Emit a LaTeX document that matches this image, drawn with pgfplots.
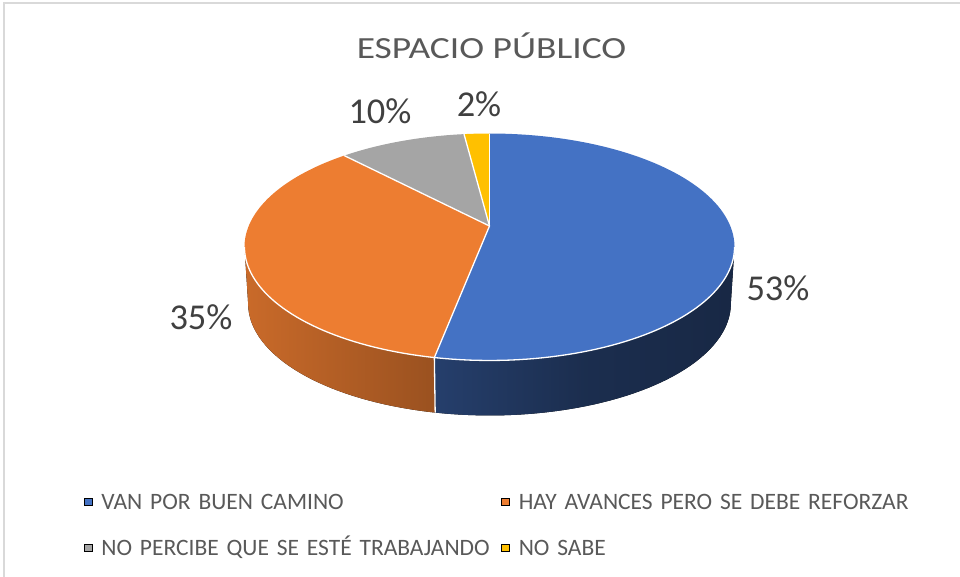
\documentclass[border=0pt]{standalone}
\usepackage{pgfplots}
\pgfplotsset{compat=1.18}
\usepackage{pgfplotstable}
\usepackage{graphicx}
\usepackage{fontspec}
\setmainfont{Carlito}
\definecolor{cBlue}{HTML}{4472C4}
\definecolor{cOrange}{HTML}{ED7D31}
\definecolor{cGray}{HTML}{A5A5A5}
\definecolor{cYellow}{HTML}{FFC000}
\definecolor{txt}{HTML}{595959}
\definecolor{lbl}{HTML}{404040}
\definecolor{frameC}{HTML}{D9D9D9}

\pgfplotstableread{
cat value
1 53
2 35
3 10
4 2
}\piedata

\begin{document}%
\begin{tikzpicture}[declare function={
  px(\t)=489.5+240.8*cos(\t)/(1+0.185*sin(\t));
  py(\t)=351+109.6*sin(\t)/(1+0.185*sin(\t));
  qx(\t)=489.5+0.985*240.8*cos(\t)/(1+0.185*sin(\t));
  qy(\t)=294+0.985*109.6*sin(\t)/(1+0.185*sin(\t));
}]
\pgfplotstablegetelem{0}{value}\of\piedata \let\vA\pgfplotsretval
\pgfplotstablegetelem{1}{value}\of\piedata \let\vB\pgfplotsretval
\pgfplotstablegetelem{2}{value}\of\piedata \let\vC\pgfplotsretval
\pgfplotstablegetelem{3}{value}\of\piedata \let\vD\pgfplotsretval
\pgfmathsetmacro\aA{90}
\pgfmathsetmacro\aB{\aA-3.6*\vA}
\pgfmathsetmacro\aC{\aB-3.6*\vB}
\pgfmathsetmacro\aD{\aC-3.6*\vC}
\pgfmathsetmacro\aE{\aD-3.6*\vD}
\pgfmathsetmacro\sR{-asin(0.185)}
\pgfmathsetmacro\sL{-180-\sR}
\pgfmathsetmacro\aBB{\aB+360}
\pgfmathsetmacro\sLL{\sL+360}
\begin{axis}[
  width=960bp, height=577bp, scale only axis,
  xmin=0, xmax=960, ymin=0, ymax=577,
  hide axis, clip=false,
  legend columns=2,
  legend cell align=left,
  legend image code/.code={\fill[#1] (0bp,-3.5bp) rectangle (8bp,3.5bp);},
  legend style={draw=none, fill=none, inner sep=0pt, outer sep=0pt,
    at={(axis description cs:0.0875,0.14558)}, anchor=north west,
    font=\fontsize{23.5bp}{28bp}\selectfont, text=txt,
    row sep=29bp,
    nodes={inner sep=0pt, text height=17bp, text depth=0bp, text width=390bp, align=left},
    /tikz/every odd column/.append style={column sep=9bp},
    /tikz/every even column/.append style={column sep=10bp}},
]
% frame
\draw[frameC, line width=2bp] (axis cs:4.5,0) -- (axis cs:4.5,573.5) -- (axis cs:960,573.5);

% side walls
\fill[left color=cBlue!55!black, right color=cBlue!35!black, middle color=cBlue!40!black]
  plot[domain=\aB:\sR, samples=60, variable=\t] (axis cs:{px(\t)},{py(\t)})
  -- plot[domain=\sR:\aB, samples=60, variable=\t] (axis cs:{qx(\t)},{qy(\t)}) -- cycle;
\fill[left color=cOrange!85!black, right color=cOrange!65!black]
  plot[domain=\sLL:\aBB, samples=60, variable=\t] (axis cs:{px(\t)},{py(\t)})
  -- plot[domain=\aBB:\sLL, samples=60, variable=\t] (axis cs:{qx(\t)},{qy(\t)}) -- cycle;

% top face slices
\fill[cBlue] (axis cs:489.5,351) -- plot[domain=\aB:\aA, samples=100, variable=\t] (axis cs:{px(\t)},{py(\t)}) -- cycle;
\fill[cOrange] (axis cs:489.5,351) -- plot[domain=\aC:\aB, samples=80, variable=\t] (axis cs:{px(\t)},{py(\t)}) -- cycle;
\fill[cGray] (axis cs:489.5,351) -- plot[domain=\aD:\aC, samples=30, variable=\t] (axis cs:{px(\t)},{py(\t)}) -- cycle;
\fill[cYellow] (axis cs:489.5,351) -- plot[domain=\aE:\aD, samples=10, variable=\t] (axis cs:{px(\t)},{py(\t)}) -- cycle;

% white edges
\draw[white, line width=1.3bp] (axis cs:489.5,351) -- (axis cs:{px(\aA)},{py(\aA)});
\draw[white, line width=1.3bp] (axis cs:489.5,351) -- (axis cs:{px(\aB)},{py(\aB)});
\draw[white, line width=1.3bp] (axis cs:489.5,351) -- (axis cs:{px(\aC)},{py(\aC)});
\draw[white, line width=1.3bp] (axis cs:489.5,351) -- (axis cs:{px(\aD)},{py(\aD)});
\draw[white, line width=1.3bp] plot[domain=\sL:\sR, samples=100, variable=\t] (axis cs:{px(\t)},{py(\t)});
\draw[white, line width=1.3bp] (axis cs:{px(\aB)},{py(\aB)}) -- (axis cs:{qx(\aB)},{qy(\aB)});

% data labels
\node[anchor=base, text=lbl, font=\fontsize{36.4bp}{40bp}\selectfont, inner sep=0pt] at (axis cs:778,276) {53\%};
\node[anchor=base, text=lbl, font=\fontsize{36.4bp}{40bp}\selectfont, inner sep=0pt] at (axis cs:201,247) {35\%};
\node[anchor=base, text=lbl, font=\fontsize{36.4bp}{40bp}\selectfont, inner sep=0pt] at (axis cs:380,453) {10\%};
\node[anchor=base, text=lbl, font=\fontsize{36.4bp}{40bp}\selectfont, inner sep=0pt] at (axis cs:479,460) {2\%};

% title
\node[anchor=base, text=txt, inner sep=0pt] at (axis cs:491.5,518) {\scalebox{1}[0.82]{\fontsize{37.5bp}{40bp}\selectfont ESPACIO PÚBLICO}};

\addlegendimage{fill=cBlue}
\addlegendentry{VAN POR BUEN CAMINO}
\addlegendimage{fill=cOrange}
\addlegendentry{HAY AVANCES PERO SE DEBE REFORZAR}
\addlegendimage{fill=cGray}
\addlegendentry{NO PERCIBE QUE SE ESTÉ TRABAJANDO}
\addlegendimage{fill=cYellow}
\addlegendentry{NO SABE}
\end{axis}
\pgfresetboundingbox
\path[use as bounding box] (0,0) rectangle (960bp,577bp);
\end{tikzpicture}%
\end{document}
